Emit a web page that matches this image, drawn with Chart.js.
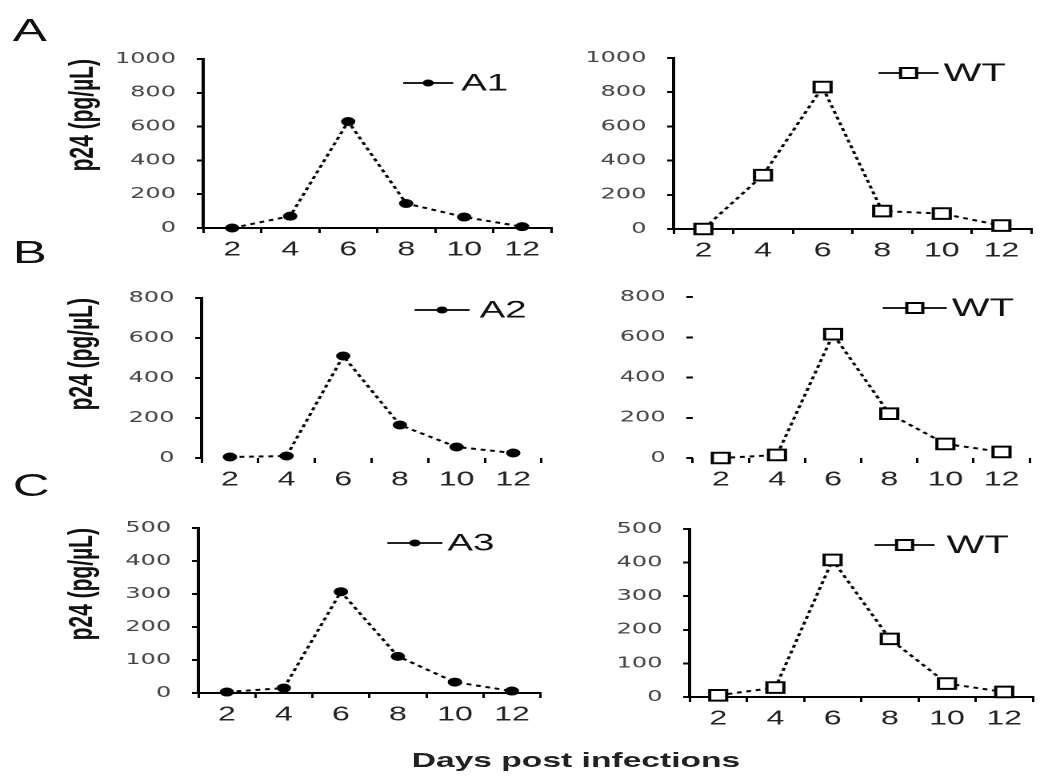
<!DOCTYPE html>
<html>
<head>
<meta charset="utf-8">
<title>p24 time course</title>
<script src="https://cdn.jsdelivr.net/npm/chart.js@4.4.1/dist/chart.umd.min.js"></script>
<style>
  html, body { margin: 0; padding: 0; background: #fff; }
  body { width: 1041px; height: 778px; overflow: hidden; position: relative; }
  /* the scanned figure is stretched sideways, so draw narrow and scale x */
  #fig {
    position: absolute; left: 0; top: 0;
    width: 650.625px; height: 778px;
    transform: scaleX(1.6); transform-origin: 0 0;
    font-family: "Liberation Sans", Arial, sans-serif; color: #111;
  }
  #fig canvas { position: absolute; }
  .letter { position: absolute; left: 8px; font-size: 32px; line-height: 1; }
  #xtitle {
    position: absolute; left: 250px; width: 220px; top: 749px;
    text-align: center; font-size: 21px; font-weight: bold; line-height: 1; color: #222;
  }
</style>
</head>
<body>
<div id="fig">
  <div class="letter" style="top:14px">A</div>
  <div class="letter" style="top:236px">B</div>
  <div class="letter" style="top:469px">C</div>
  <div id="xtitle">Days post infections</div>
</div>

<script>
// Data (p24, pg/µL)
const days = ['2', '4', '6', '8', '10', '12'];
const a1  = [0, 70, 630, 145, 65, 8];
const wtA = [0, 315, 830, 105, 90, 20];
const a2  = [5, 10, 510, 165, 55, 25];
const wtB = [0, 15, 615, 220, 70, 30];
const a3  = [3, 15, 307, 111, 33, 6];
const wtC = [5, 28, 408, 173, 40, 15];

const SX = 1.6;          // horizontal stretch of the page
const Y_AXIS_W = 125;    // fixed width of the y scale box
const X_AXIS_H = 45;     // fixed height of the x scale box
const PAD_TOP = 16;
const FONT = '"Liberation Sans", Arial, sans-serif';

// layout in page pixels: box = [axis left, axis right, y top, y zero]
// legend = [line start, line end, text x, y]
const panels = [
  { label: 'A1', data: a1,  kind: 'dot', yMax: 1000, yStep: 200, box: [203, 551, 53, 228],  legend: [403, 453, 461, 83],  title: true,  xLine: true,  yLine: true },
  { label: 'WT', data: wtA, kind: 'sq',  yMax: 1000, yStep: 200, box: [673, 1035, 52, 229], legend: [878, 938, 943, 73],  title: false, xLine: true,  yLine: true },
  { label: 'A2', data: a2,  kind: 'dot', yMax: 800,  yStep: 200, box: [202, 542, 292, 458], legend: [415, 470, 480, 310], title: true,  xLine: false, yLine: true },
  { label: 'WT', data: wtB, kind: 'sq',  yMax: 800,  yStep: 200, box: [693, 1035, 291, 458], legend: [883, 947, 952, 308], title: false, xLine: false, yLine: false },
  { label: 'A3', data: a3,  kind: 'dot', yMax: 500,  yStep: 100, box: [199, 541, 522, 693], legend: [388, 443, 448, 543], title: true,  xLine: true,  yLine: true },
  { label: 'WT', data: wtC, kind: 'sq',  yMax: 500,  yStep: 100, box: [690, 1038, 523, 697], legend: [875, 935, 947, 545], title: false, xLine: true,  yLine: true }
];

function drawMarker(ctx, kind, x, y) {
  ctx.save();
  ctx.setLineDash([]);
  ctx.strokeStyle = '#000';
  if (kind === 'dot') {
    ctx.fillStyle = '#000';
    ctx.beginPath();
    ctx.arc(x, y, 3.5, 0, Math.PI * 2);
    ctx.fill();
  } else {
    const s = 5;
    ctx.fillStyle = '#fff';
    ctx.lineWidth = 2;
    ctx.fillRect(x - s, y - s, 2 * s, 2 * s);
    ctx.strokeRect(x - s, y - s, 2 * s, 2 * s);
  }
  ctx.restore();
}

// Excel-style legend: line with a marker, then the name
const lineLegend = {
  id: 'lineLegend',
  afterDatasetsDraw(chart, args, opts) {
    const ctx = chart.ctx;
    const ds = chart.data.datasets[0];
    const x0 = opts.x0, x1 = opts.x1, y = opts.y;
    ctx.save();
    ctx.strokeStyle = '#000';
    ctx.lineWidth = 1.8;
    ctx.setLineDash([]);
    ctx.beginPath();
    ctx.moveTo(x0, y);
    ctx.lineTo(x1, y);
    ctx.stroke();
    drawMarker(ctx, opts.kind, (x0 + x1) / 2, y);
    ctx.fillStyle = '#111';
    ctx.font = opts.size + 'px ' + FONT;
    ctx.textBaseline = 'middle';
    ctx.textAlign = 'left';
    ctx.fillText(ds.label, opts.tx, y + 1);
    ctx.restore();
  }
};

const fig = document.getElementById('fig');

panels.forEach(p => {
  const [axL, axR, top, zero] = p.box;
  const areaW = (axR - axL) / SX;
  const left = axL / SX - Y_AXIS_W;
  const w = Math.ceil(Y_AXIS_W + areaW + 6);
  const padRight = w - Y_AXIS_W - areaW;
  const h = Math.round(PAD_TOP + (zero - top) + X_AXIS_H);
  const canvasTop = top - PAD_TOP;

  const canvas = document.createElement('canvas');
  canvas.width = w;
  canvas.height = h;
  canvas.style.left = left + 'px';
  canvas.style.top = canvasTop + 'px';
  fig.appendChild(canvas);

  const isDot = p.kind === 'dot';
  const toX = xr => xr / SX - left;

  new Chart(canvas, {
    type: 'line',
    data: {
      labels: days,
      datasets: [{
        label: p.label,
        data: p.data,
        borderColor: '#000',
        borderWidth: 2,
        borderDash: [3, 3],
        tension: 0,
        fill: false,
        clip: false,
        pointStyle: isDot ? 'circle' : 'rect',
        pointRadius: isDot ? 4 : 7.5,
        pointBackgroundColor: isDot ? '#000' : '#fff',
        pointBorderColor: '#000',
        pointBorderWidth: isDot ? 1 : 2
      }]
    },
    options: {
      responsive: false,
      animation: false,
      devicePixelRatio: 2,
      layout: { padding: { left: 0, top: PAD_TOP, right: padRight, bottom: 0 } },
      plugins: {
        legend: { display: false },
        tooltip: { enabled: false },
        lineLegend: {
          x0: toX(p.legend[0]), x1: toX(p.legend[1]), tx: toX(p.legend[2]),
          y: p.legend[3] - canvasTop, kind: p.kind, size: p.label === 'WT' ? 25 : 24
        }
      },
      scales: {
        x: {
          type: 'category',
          offset: true,
          grid: { offset: true, drawOnChartArea: false, drawTicks: true, tickLength: 5, color: '#000', lineWidth: 1.5 },
          border: { display: p.xLine, color: '#000', width: 2 },
          ticks: { color: '#222', font: { family: FONT, size: 20 }, padding: 5, maxRotation: 0, autoSkip: false },
          afterFit: s => { s.height = X_AXIS_H; }
        },
        y: {
          min: 0,
          max: p.yMax,
          grid: { drawOnChartArea: false, drawTicks: true, tickLength: 4, color: '#000', lineWidth: 2 },
          border: { display: p.yLine, color: '#000', width: 2 },
          ticks: {
            stepSize: p.yStep, color: '#444', padding: 13,
            font: { family: '"DejaVu Sans", sans-serif', size: 15 },
            callback: v => String(v)
          },
          title: {
            display: p.title,
            text: 'p24 (pg/µL)',
            align: 'end',
            color: '#111',
            font: { family: FONT, size: 21, weight: 'bold' },
            padding: { top: 52 - left - 12.6, bottom: 0 }
          },
          afterFit: s => { s.width = Y_AXIS_W; }
        }
      }
    },
    plugins: [lineLegend]
  });
});
</script>
</body>
</html>
